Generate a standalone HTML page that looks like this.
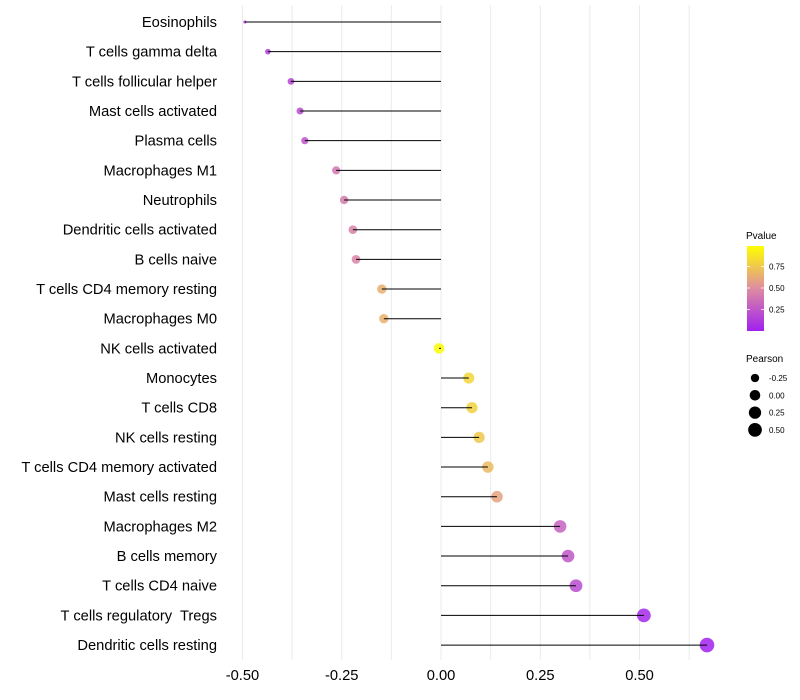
<!DOCTYPE html>
<html><head><meta charset="utf-8"><style>
body{margin:0;background:#fff;}
svg{display:block;font-family:"Liberation Sans",Arial,sans-serif;}
text{white-space:pre;}
</style></head><body>
<svg id="chart" width="800" height="700"></svg>
<script>
const categories=["Eosinophils","T cells gamma delta","T cells follicular helper","Mast cells activated","Plasma cells","Macrophages M1","Neutrophils","Dendritic cells activated","B cells naive","T cells CD4 memory resting","Macrophages M0","NK cells activated","Monocytes","T cells CD8","NK cells resting","T cells CD4 memory activated","Mast cells resting","Macrophages M2","B cells memory","T cells CD4 naive","T cells regulatory  Tregs","Dendritic cells resting"];
const pearson=[-0.494,-0.436,-0.378,-0.355,-0.343,-0.264,-0.244,-0.222,-0.214,-0.149,-0.144,-0.005,0.070,0.078,0.096,0.118,0.141,0.300,0.320,0.340,0.511,0.670];
const pvalue=[0.08,0.14,0.16,0.2,0.24,0.4,0.42,0.45,0.46,0.65,0.66,0.99,0.82,0.8,0.76,0.7,0.6,0.3,0.25,0.2,0.04,0.01];
const xTicks=[-0.5,-0.25,0,0.25,0.5];
const xTickLabels=["-0.50","-0.25","0.00","0.25","0.50"];
const sizeBreaks=[-0.25,0,0.25,0.5];
const sizeLabels=["-0.25","0.00","0.25","0.50"];
const pBreaks=[0.25,0.5,0.75];
const pLabels=["0.25","0.50","0.75"];

const NS="http://www.w3.org/2000/svg";
const svg=document.getElementById('chart');
function mk(t,a,p){const e=document.createElementNS(NS,t);for(const k in a)e.setAttribute(k,a[k]);(p||svg).appendChild(e);return e;}
const X=v=>441+v*397;
const Y=i=>22+i*29.67;
const vmin=Math.min(...pearson),vmax=Math.max(...pearson);
const R=v=>{const t=Math.max(0,Math.min(1,(v-vmin)/(vmax-vmin)));return 1.15*(1+5*Math.sqrt(t))+0.4;};
function lerp(a,b,t){return a.map((x,i)=>Math.round(x+(b[i]-x)*t));}
function col(p){const c0=[160,32,240],c1=[222,140,160],c2=[255,255,0];
 const c=p<0.5?lerp(c0,c1,p/0.5):lerp(c1,c2,(p-0.5)/0.5);return `rgb(${c.join(',')})`;}

for(let v=-0.5;v<=0.626;v+=0.125){
 const g=mk('line',{x1:X(v),x2:X(v),y1:5,y2:660,stroke:'#ebebeb','stroke-width':1});
 
 
}
xTicks.forEach((v,i)=>{
 const t=mk('text',{x:X(v),y:680,'text-anchor':'middle','font-size':14.7,fill:'#000'});
 t.textContent=xTickLabels[i];
 
 
});
categories.forEach((c,i)=>{
 const t=mk('text',{x:217,y:Y(i)+5,'text-anchor':'end','font-size':14.7,fill:'#000'});
 t.textContent=c;
 
 
 const pt=mk('circle',{cx:X(pearson[i]),cy:Y(i),r:R(pearson[i]),fill:col(pvalue[i]),'fill-opacity':0.85});
 
 
 const ln=mk('line',{x1:X(0),x2:X(pearson[i]),y1:Y(i),y2:Y(i),stroke:'#000','stroke-width':1});
 
 
});
const defs=mk('defs',{});
const lg=mk('linearGradient',{id:'pg',x1:0,y1:1,x2:0,y2:0},defs);
[0,0.25,0.5,0.75,1].forEach(s=>mk('stop',{offset:s,'stop-color':col(s)},lg));
const lt=mk('text',{x:746,y:239,'font-size':10,fill:'#000'});lt.textContent='Pvalue';


const cb=mk('rect',{x:747,y:246,width:17,height:85,fill:'url(#pg)'});


const PY=p=>331-p*86;
pBreaks.forEach((p,i)=>{
 mk('line',{x1:747,x2:750,y1:PY(p),y2:PY(p),stroke:'#fff','stroke-width':0.8});
 mk('line',{x1:761,x2:764,y1:PY(p),y2:PY(p),stroke:'#fff','stroke-width':0.8});
 const t=mk('text',{x:769,y:PY(p)+3,'font-size':8,fill:'#000'});t.textContent=pLabels[i];
 
 
});
const st=mk('text',{x:746,y:362,'font-size':10,fill:'#000'});st.textContent='Pearson';


sizeBreaks.forEach((v,i)=>{
 const y=378+i*17.3;
 const c=mk('circle',{cx:755,cy:y,r:R(v),fill:'#000'});
 
 
 const t=mk('text',{x:769,y:y+3,'font-size':8,fill:'#000'});t.textContent=sizeLabels[i];
 
 
});
</script>
</body></html>
